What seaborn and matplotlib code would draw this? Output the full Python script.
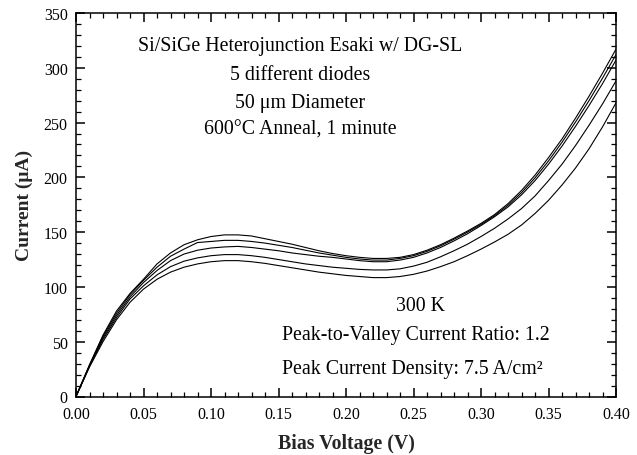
import numpy as np
import pandas as pd
import matplotlib
matplotlib.use("Agg")
import matplotlib.pyplot as plt
from matplotlib.ticker import MultipleLocator
import seaborn as sns

# Bias voltage sweep (V)
bias = [0.00, 0.01, 0.02, 0.03, 0.04, 0.05, 0.06, 0.07, 0.08, 0.09,
        0.10, 0.11, 0.12, 0.13, 0.14, 0.15, 0.16, 0.17, 0.18, 0.19,
        0.20, 0.21, 0.22, 0.23, 0.24, 0.25, 0.26, 0.27, 0.28, 0.29,
        0.30, 0.31, 0.32, 0.33, 0.34, 0.35, 0.36, 0.37, 0.38, 0.39, 0.40]

# Measured current (uA) for the five diodes
diode_1 = [0, 29, 56, 78, 94, 107, 121, 131, 138.5, 143,
           146, 147.5, 147.5, 146.5, 144, 141.5, 139, 136, 133, 130.5,
           128.5, 127, 126, 126, 127, 129.5, 133.5, 138.5, 144.5, 151,
           158, 166, 176, 188, 202, 218, 235, 254, 274, 295, 317]
diode_2 = [0, 28.5, 55, 76, 93, 106, 118, 128, 134.5, 140.5,
           141.5, 142.5, 142.5, 141.5, 140, 138, 136, 133.5, 131, 129,
           127, 125.5, 124.5, 124.5, 126, 128.5, 132.5, 137.5, 143.5, 150,
           157, 165, 174.5, 186, 199.5, 215, 232, 250.5, 270, 290.5, 312]
diode_3 = [0, 28, 53.5, 74, 91, 104, 115, 124, 130, 133.5,
           135.5, 136.5, 137, 136, 134.5, 133, 131, 129.5, 128, 127,
           125.5, 124, 123, 123, 124.5, 127, 131, 136, 142, 148.5,
           156, 164, 173, 184, 197, 212, 228.5, 246.5, 265.5, 285.5, 307]
diode_4 = [0, 27.5, 52, 72, 89, 101, 111, 118.5, 123.5, 126.5,
           128.5, 129.5, 129.5, 128.5, 127, 125, 123, 121, 119.5, 118,
           117, 116, 115.5, 115.5, 116.5, 119, 122.5, 127.5, 133, 139,
           146, 153.5, 162, 171.5, 183, 197, 212, 229, 247.5, 267, 288]
diode_5 = [0, 27, 50, 70, 86, 98, 107, 113.5, 118, 121,
           123, 124, 124, 123, 121.5, 119.5, 117.5, 115.5, 113.5, 112,
           110.5, 109.5, 108.5, 108.5, 109.5, 111.5, 114.5, 118.5, 123, 128.5,
           134.5, 141, 148, 156.5, 167, 179, 193, 208.5, 226, 246, 268]

diode_names = ["D1", "D2", "D3", "D4", "D5"]
x_ticks = [0.00, 0.05, 0.10, 0.15, 0.20, 0.25, 0.30, 0.35, 0.40]
x_tick_labels = ["0.00", "0.05", "0.10", "0.15", "0.20", "0.25", "0.30", "0.35", "0.40"]
y_ticks = [0, 50, 100, 150, 200, 250, 300, 350]

frames = []
for name, cur in zip(diode_names, [diode_1, diode_2, diode_3, diode_4, diode_5]):
    frames.append(pd.DataFrame({"bias": bias, "current": cur, "diode": name}))
df = pd.concat(frames, ignore_index=True)

sns.set_theme(style="ticks")
plt.rcParams["font.family"] = ["Liberation Serif", "DejaVu Serif"]
plt.rcParams["axes.linewidth"] = 1.1

fig = plt.figure(figsize=(6.37, 4.56), dpi=100)
ax = fig.add_axes([76 / 637, 1 - 397.5 / 456, (616 - 76) / 637, (397.5 - 14) / 456])

sns.lineplot(data=df, x="bias", y="current", hue="diode",
             palette=["black"] * 5, legend=False, linewidth=0.8,
             estimator=None, sort=False, ax=ax)

ax.set_xlim(0, 0.40)
ax.set_ylim(0, 350)
ax.set_xticks(x_ticks)
ax.set_xticklabels(x_tick_labels)
ax.set_yticks(y_ticks)
ax.xaxis.set_minor_locator(MultipleLocator(0.01))
ax.yaxis.set_minor_locator(MultipleLocator(10))
ax.tick_params(which="both", direction="in", top=True, right=True,
               color="black", labelsize=11.5, labelcolor="black")
ax.tick_params(which="major", length=6.5, width=1.1)
ax.tick_params(which="minor", length=3.6, width=0.9)
ax.tick_params(axis="x", which="major", pad=7)
ax.tick_params(axis="y", which="major", pad=6)
for s in ax.spines.values():
    s.set_visible(True)
    s.set_color("black")

ax.set_xlabel("Bias Voltage (V)", fontsize=14.3, fontweight="bold", va="center")
ax.xaxis.set_label_coords(0.5, -(444 - 397.5) / 383.5)
ax.set_ylabel("Current (\u03bcA)", fontsize=14, fontweight="bold", labelpad=8)

txt = dict(fontsize=14.3, color="black", transform=fig.transFigure)
def fx(px):
    return px / 637
def fy(py):
    return 1 - py / 456

fig.text(fx(300), fy(46), "Si/SiGe Heterojunction Esaki w/ DG-SL", ha="center", va="center", **txt)
fig.text(fx(300), fy(75), "5 different diodes", ha="center", va="center", **txt)
fig.text(fx(300), fy(103.5), "50 \u03bcm Diameter", ha="center", va="center", **txt)
fig.text(fx(300), fy(130), "600\u00b0C Anneal, 1 minute", ha="center", va="center", **txt)

fig.text(fx(421), fy(306.5), "300 K", ha="center", va="center", **txt)
fig.text(fx(282), fy(336), "Peak-to-Valley Current Ratio: 1.2", ha="left", va="center", **txt)
fig.text(fx(282), fy(370), "Peak Current Density: 7.5 A/cm\u00b2", ha="left", va="center", **txt)

fig.savefig("out.png", dpi=100, facecolor="white")
